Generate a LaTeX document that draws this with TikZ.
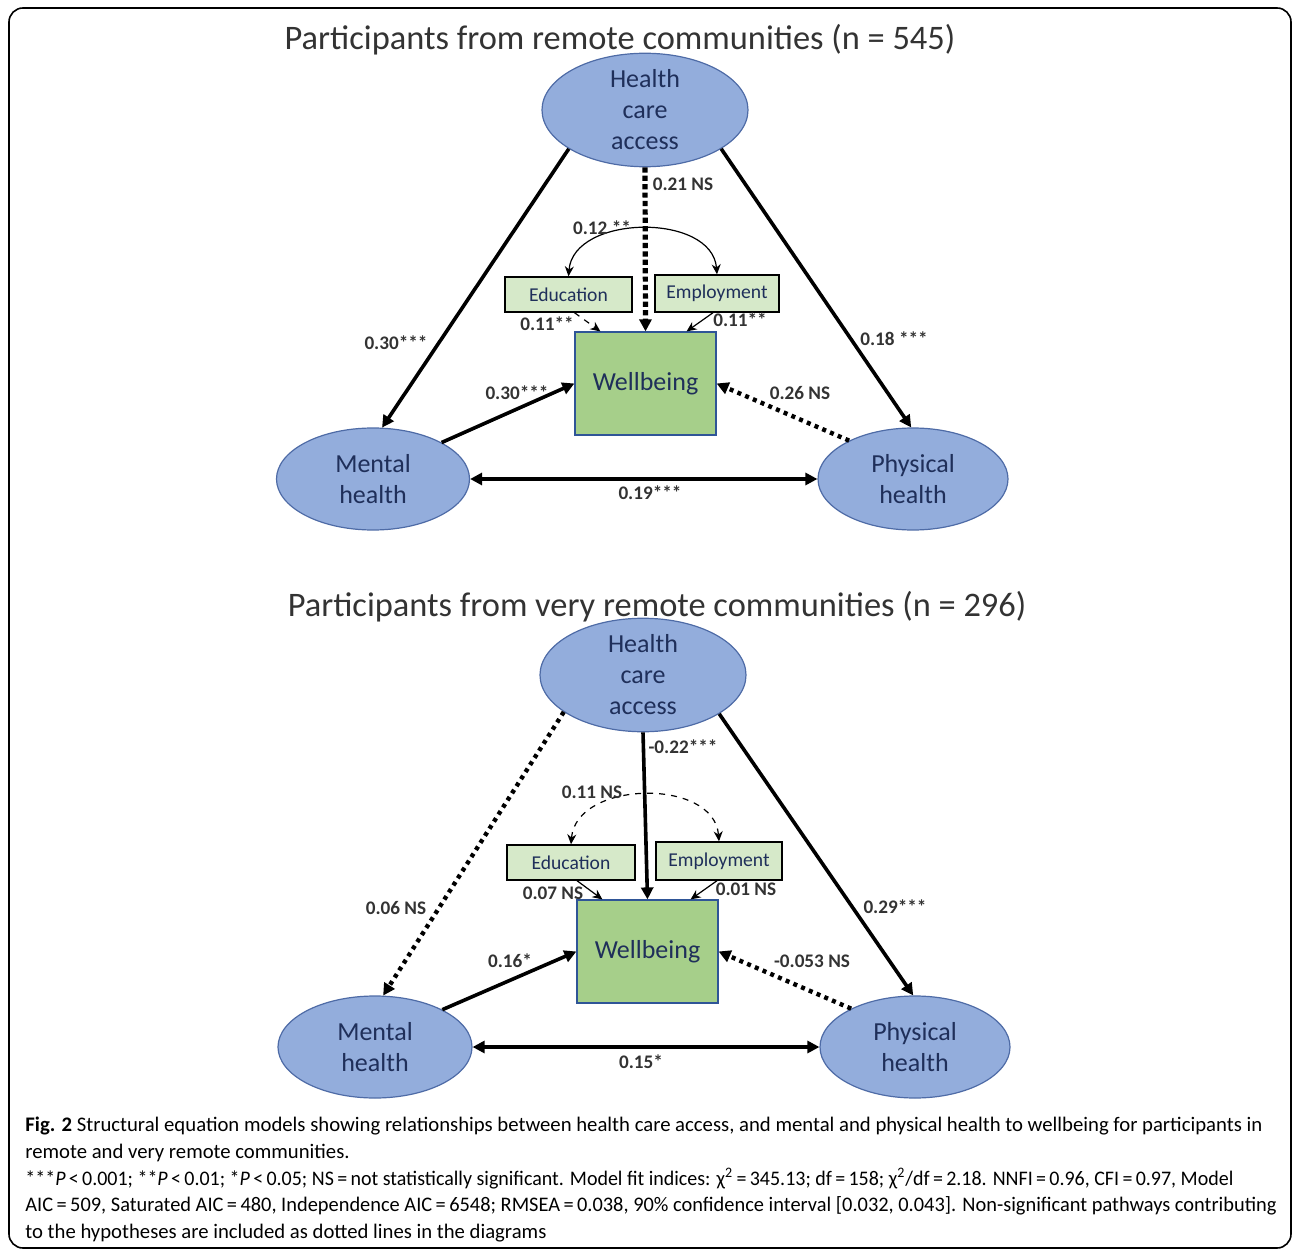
\documentclass[tikz,border=0pt]{standalone}
\usepackage{fontspec}
\usepackage{graphicx}
\setmainfont{Carlito}
\newfontfamily\capfont{Carlito}
\usetikzlibrary{arrows.meta,shapes.geometric}
\definecolor{ellfill}{HTML}{93ADDC}
\definecolor{elldraw}{HTML}{4E6BA6}
\definecolor{elltext}{HTML}{1F2F5A}
\definecolor{wbfill}{HTML}{A6CF8A}
\definecolor{wbdraw}{HTML}{2F5597}
\definecolor{covfill}{HTML}{D6E9C9}
\definecolor{titlecol}{HTML}{333333}
\newcommand\eqs{\,=\,}
\newcommand\lts{\,<\,}
\tikzset{
  latent/.style={ellipse, draw=elldraw, fill=ellfill, line width=0.6pt, inner sep=0pt,
    align=center, text=elltext, font=\fontsize{13}{15.5}\selectfont},
  wbbox/.style={rectangle, draw=wbdraw, fill=wbfill, line width=0.6pt, inner sep=0pt,
    minimum width=70.5pt, minimum height=51.5pt, text=elltext, font=\fontsize{13}{15}\selectfont},
  covbox/.style={rectangle, draw=black, fill=covfill, line width=0.7pt, inner sep=0pt,
    font=\fontsize{9.8}{11}\selectfont, text=elltext},
  lab/.style={font=\bfseries\fontsize{9.6}{11}\selectfont, text=titlecol, inner sep=1pt},
  ttl/.style={font=\fontsize{17.2}{20}\selectfont, text=titlecol, inner sep=0pt},
  sig/.style={line width=1.8pt, -{Triangle[length=6pt,width=6pt]}},
  nsig/.style={line width=2.2pt, dash pattern=on 2.2pt off 1.8pt, -{Triangle[length=6pt,width=6pt]}},
  both/.style={line width=1.8pt, {Triangle[length=6pt,width=6pt]}-{Triangle[length=6pt,width=6pt]}},
  thinarr/.style={line width=0.6pt, -{Stealth[length=5pt,width=4.5pt]}},
  covarc/.style={line width=0.6pt, {Stealth[length=5pt,width=4.5pt]}-{Stealth[length=5pt,width=4.5pt]}},
  capline/.style={anchor=base west, inner sep=0pt, font=\capfont\fontsize{10.35}{12}\selectfont}
}
\begin{document}
\begin{tikzpicture}[x=0.5pt,y=-0.5pt]
\useasboundingbox (0,0) rectangle (1295,1251);
\draw[rounded corners=7pt, line width=0.8pt] (9,8) rectangle (1291,1248);

% ---------- top model ----------
\node[ttl] (t1) at (620,40) {Participants from remote communities (n = 545)};
\node[latent, minimum width=103pt, minimum height=45pt] (hca) at (645,110) {Health\\care\\access};
\node[latent, minimum width=96.5pt, minimum height=51pt] (ment) at (373,479) {Mental\\health};
\node[latent, minimum width=95pt, minimum height=51pt] (phys) at (913,479) {Physical\\health};
\node[wbbox] (wb) at (645.5,383.5) {Wellbeing};
\node[covbox, minimum width=63.5pt, minimum height=17.5pt] (edu) at (568.5,294.5) {Education};
\node[covbox, minimum width=62pt, minimum height=18.5pt] (emp) at (717,293.5) {Employment};

\draw[sig] (hca.207) -- (ment.80);
\draw[sig] (hca.333) -- (phys.92);
\draw[nsig, line width=2.6pt, dash pattern=on 2.6pt off 1.6pt] (hca.south) -- (wb.north);
\draw[sig] (ment.28) -- (wb.west);
\draw[nsig, dash pattern=on 2pt off 2.2pt] (phys.149) -- (wb.east);
\draw[both] (ment.east) -- (phys.west);
\draw[thinarr, dashed] ([xshift=3pt]edu.south) -- ([xshift=13pt]wb.north west);
\draw[thinarr] ([xshift=-2pt]emp.south) -- ([xshift=-15pt]wb.north east);
\draw[covarc] (edu.north) .. controls +(5,-62) and +(-5,-62) .. (emp.north);

\node[lab] (l1) at (683,184) {0.21 NS};
\node[lab] (l2) at (602,228) {0.12 **};
\node[lab] (l3) at (547,324) {0.11**};
\node[lab] (l4) at (740,320) {0.11**};
\node[lab] (l5) at (396,343) {0.30***};
\node[lab] (l6) at (894,339) {0.18 ***};
\node[lab] (l7) at (517,393) {0.30***};
\node[lab] (l8) at (800,393) {0.26 NS};
\node[lab] (l9) at (650,493) {0.19***};

% ---------- bottom model ----------
\node[ttl] (t2) at (657,607) {Participants from very remote communities (n = 296)};
\node[latent, minimum width=103pt, minimum height=47pt] (hcb) at (643,675) {Health\\care\\access};
\node[latent, minimum width=97pt, minimum height=51pt] (mentb) at (375,1047) {Mental\\health};
\node[latent, minimum width=95pt, minimum height=51pt] (physb) at (915,1047) {Physical\\health};
\node[wbbox] (wbb) at (647.5,951.5) {Wellbeing};
\node[covbox, minimum width=64pt, minimum height=17.5pt] (edub) at (571,862.5) {Education};
\node[covbox, minimum width=63pt, minimum height=19pt] (empb) at (719,861) {Employment};

\draw[sig] (hcb.south) -- (wbb.north);
\draw[nsig, dash pattern=on 2pt off 2.2pt] (hcb.205) -- (mentb.81);
\draw[sig] (hcb.333) -- (physb.92);
\draw[sig] (mentb.29) -- (wbb.west);
\draw[nsig, dash pattern=on 2pt off 2.2pt] (physb.149) -- (wbb.east);
\draw[both] (mentb.east) -- (physb.west);
\draw[thinarr] ([xshift=3pt]edub.south) -- ([xshift=13pt]wbb.north west);
\draw[thinarr] ([xshift=-1pt]empb.south) -- ([xshift=-14pt]wbb.north east);
\draw[covarc, dashed] (edub.north) .. controls +(5,-64) and +(-5,-64) .. (empb.north);

\node[lab] (m1) at (683,747) {-0.22***};
\node[lab] (m2) at (592,792) {0.11 NS};
\node[lab] (m3) at (553,893) {0.07 NS};
\node[lab] (m4) at (746,889) {0.01 NS};
\node[lab] (m5) at (396,908) {0.06 NS};
\node[lab] (m6) at (895,907) {0.29***};
\node[lab] (m7) at (510,961) {0.16*};
\node[lab] (m8) at (812,961) {-0.053 NS};
\node[lab] (m9) at (641,1062) {0.15*};

% ---------- caption ----------
\node[capline] (c1) at (25,1131) {\resizebox{618.5pt}{\height}{\textbf{Fig. 2} Structural equation models showing relationships between health care access, and mental and physical health to wellbeing for participants in}};
\node[capline] (c2) at (25,1158) {remote and very remote communities.};
\node[capline] (c3) at (25,1185) {\resizebox{604pt}{\height}{***\textit{P}\lts 0.001; **\textit{P}\lts 0.01; *\textit{P}\lts 0.05; NS\eqs not statistically significant. Model fit indices: χ\textsuperscript{2}\eqs 345.13; df\eqs 158; χ\textsuperscript{2}/df\eqs 2.18. NNFI\eqs 0.96, CFI\eqs 0.97, Model}};
\node[capline] (c4) at (25,1211) {\resizebox{625.5pt}{\height}{AIC\eqs 509, Saturated AIC\eqs 480, Independence AIC\eqs 6548; RMSEA\eqs 0.038, 90\% confidence interval [0.032, 0.043]. Non-significant pathways contributing}};
\node[capline] (c5) at (25,1238) {to the hypotheses are included as dotted lines in the diagrams};
\end{tikzpicture}
\end{document}
